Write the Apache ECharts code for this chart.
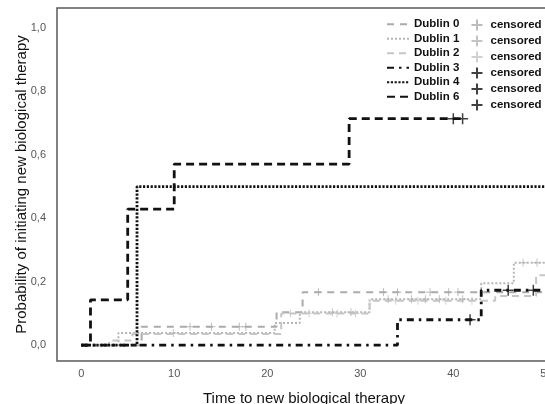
<!DOCTYPE html>
<html>
<head>
<meta charset="utf-8">
<script src="https://cdn.jsdelivr.net/npm/echarts@6/dist/echarts.min.js"></script>
<style>
  html, body { margin: 0; padding: 0; overflow: hidden; background: #fff; }
  #chart { width: 560px; height: 404px; }
</style>
</head>
<body>
<div id="chart"></div>
<script>
// Kaplan-Meier style cumulative incidence: step times and probabilities per group
const groupNames = ['Dublin 0', 'Dublin 1', 'Dublin 2', 'Dublin 3', 'Dublin 4', 'Dublin 6'];

const timesD0 = [0, 6.5, 21, 23.8, 50.5];
const probsD0 = [0, 0.058, 0.104, 0.167, 0.167];
const censorD0 = [11.7, 14, 17, 17.7, 25.5, 32.5, 34, 37.5, 39.5, 40.5];

const timesD1 = [0, 4, 20.8, 23.5, 31, 43, 46.5, 50.5];
const probsD1 = [0, 0.038, 0.07, 0.104, 0.145, 0.195, 0.26, 0.26];
const censorD1 = [9.9, 27, 29, 33, 35.5, 37, 38.5, 41, 47.5, 49];

const timesD2 = [0, 3, 5.5, 21.5, 31, 44.5, 48.9, 50.5];
const probsD2 = [0, 0.015, 0.035, 0.1, 0.14, 0.155, 0.22, 0.22];
const censorD2 = [22.5, 24.5, 27.5, 29.5, 33.8, 36.2, 39.2, 42];

const timesD3 = [0, 34, 43, 50.5];
const probsD3 = [0, 0.08, 0.173, 0.173];
const censorD3 = [41.8, 45.9, 48.6];

const timesD4 = [0, 6.0, 50.5];
const probsD4 = [0, 0.5, 0.5];
const censorD4 = [];

const timesD6 = [0, 1.0, 5.0, 10, 28.8, 41];
const probsD6 = [0, 0.143, 0.429, 0.571, 0.714, 0.714];
const censorD6 = [40, 41];

const xTicks = [0, 10, 20, 30, 40, 50];
const yTicks = [0, 0.2, 0.4, 0.6, 0.8, 1.0];

// value of a right-continuous step function at time t
function stepValueAt(times, probs, t) {
  let v = probs[0];
  for (let i = 0; i < times.length; i++) {
    if (times[i] <= t) v = probs[i];
  }
  return v;
}

const groups = [
  { times: timesD0, probs: probsD0, cens: censorD0, color: '#ababab', width: 2, dash: [7, 6], csize: 8 },
  { times: timesD1, probs: probsD1, cens: censorD1, color: '#b5b5b5', width: 2, dash: [2, 2], csize: 8 },
  { times: timesD2, probs: probsD2, cens: censorD2, color: '#c6c6c6', width: 2, dash: [7, 5], csize: 8 },
  { times: timesD3, probs: probsD3, cens: censorD3, color: '#111111', width: 2.8, dash: [7, 5, 2.5, 5], csize: 11 },
  { times: timesD4, probs: probsD4, cens: censorD4, color: '#111111', width: 2.8, dash: [2.2, 1.6], csize: 11 },
  { times: timesD6, probs: probsD6, cens: censorD6, color: '#111111', width: 2.8, dash: [8, 5], csize: 11 }
];

const plusPath = 'path://M0,5L10,5M5,0L5,10';
const font = "'Liberation Sans', Arial, sans-serif";

const series = [];
groups.forEach((g, i) => {
  series.push({
    name: groupNames[i],
    type: 'line',
    step: 'end',
    symbol: 'none',
    silent: true,
    z: i >= 3 ? 5 : 3,
    lineStyle: { color: g.color, width: g.width, type: g.dash },
    itemStyle: { color: g.color },
    data: g.times.map((t, k) => [t, g.probs[k]])
  });
});
groups.forEach((g, i) => {
  series.push({
    name: groupNames[i] + ' censored',
    type: 'scatter',
    symbol: plusPath,
    symbolSize: g.csize,
    silent: true,
    z: i >= 3 ? 6 : 4,
    itemStyle: { color: 'none', borderColor: g.color, borderWidth: i >= 3 ? 1.5 : 1 },
    data: g.cens.map(t => [t, stepValueAt(g.times, g.probs, t)])
  });
});

const legendText = { fontFamily: font, fontSize: 11.5, fontWeight: 'bold', color: '#111', lineHeight: 14.5 };

const chart = echarts.init(document.getElementById('chart'), null, { renderer: 'canvas' });
chart.setOption({
  animation: false,
  backgroundColor: '#fff',
  grid: {
    left: 57, top: 8, right: 9, bottom: 43,
    outerBoundsMode: 'none',
    containLabel: false,
    show: true, borderColor: '#5a5a5a', borderWidth: 1.5, backgroundColor: 'transparent'
  },
  legend: [
    {
      data: groupNames,
      orient: 'vertical',
      left: 381, top: 12,
      itemWidth: 22, itemHeight: 10, itemGap: 0,
      selectedMode: false,
      itemStyle: { opacity: 0, borderWidth: 0 },
      textStyle: legendText
    },
    {
      data: groupNames.map(n => n + ' censored'),
      orient: 'vertical',
      left: 464, top: 12,
      itemWidth: 17, itemHeight: 11, itemGap: 0,
      selectedMode: false,
      formatter: () => 'censored',
      textStyle: legendText
    }
  ],
  xAxis: {
    type: 'value',
    min: -2.6, max: 50.5,
    name: 'Time to new biological therapy',
    nameLocation: 'middle',
    nameGap: 30,
    nameTextStyle: { fontFamily: font, fontSize: 15, color: '#111' },
    axisLine: { show: false },
    axisTick: { show: false },
    splitLine: { show: false },
    axisLabel: {
      customValues: xTicks,
      margin: 7,
      fontFamily: font, fontSize: 11, color: '#555'
    }
  },
  yAxis: {
    type: 'value',
    min: -0.05, max: 1.063,
    name: 'Probability of initiating new biological therapy',
    nameLocation: 'middle',
    nameGap: 28,
    nameMoveOverlap: false,
    nameTextStyle: { fontFamily: font, fontSize: 15, color: '#111' },
    axisLine: { show: false },
    axisTick: { show: false },
    splitLine: { show: false },
    axisLabel: {
      customValues: yTicks,
      margin: 11,
      fontFamily: font, fontSize: 11, color: '#555',
      formatter: v => v.toFixed(1).replace('.', ',')
    }
  },
  series: series
});
</script>
</body>
</html>
